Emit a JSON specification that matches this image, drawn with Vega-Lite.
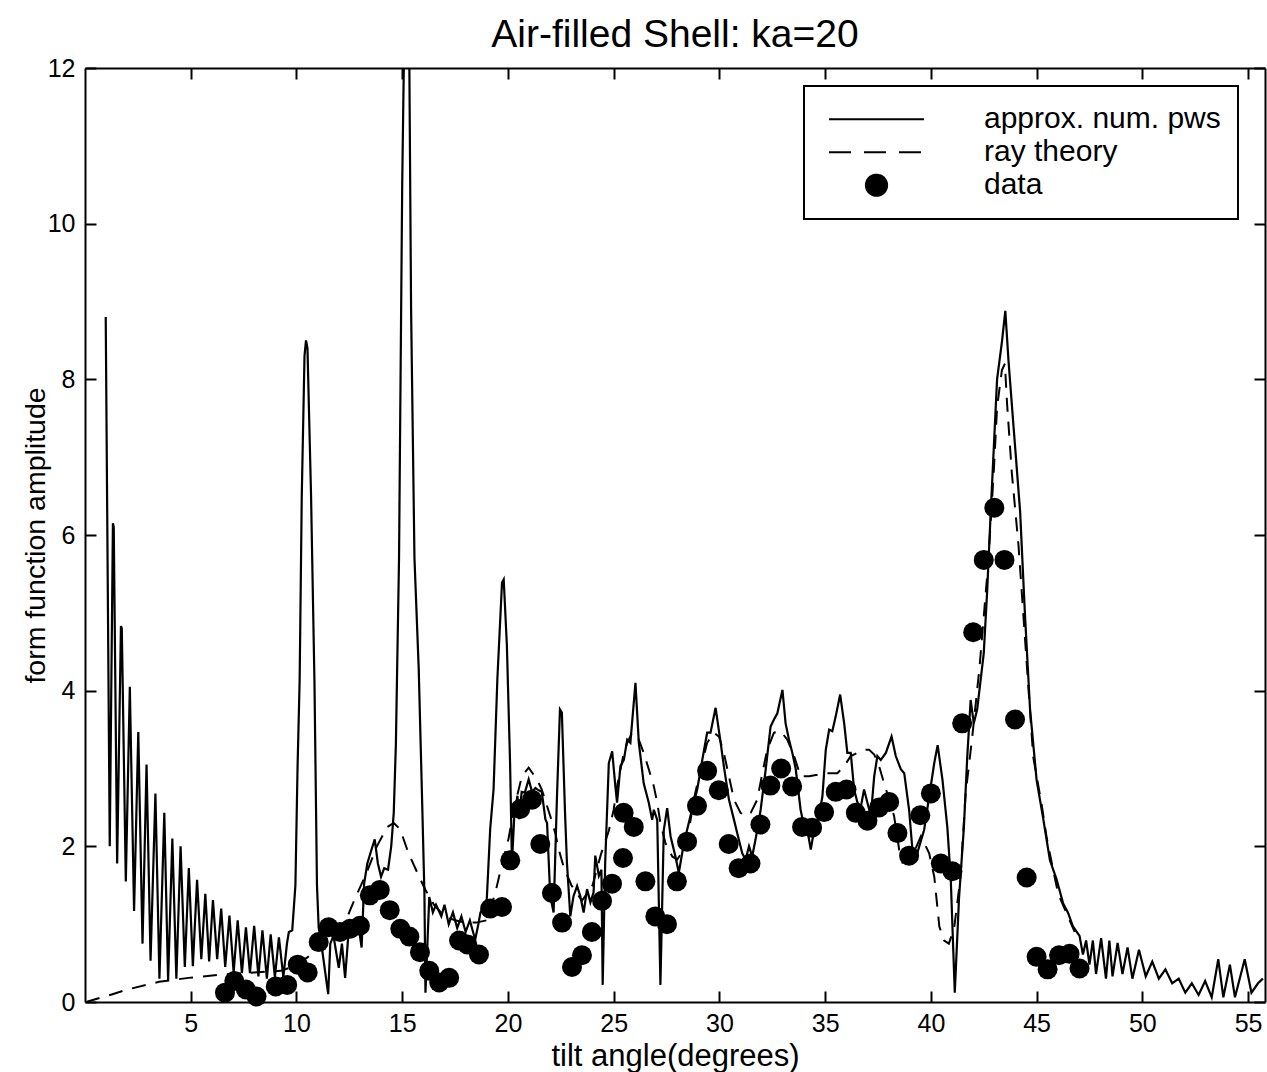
{
  "$schema": "https://vega.github.io/schema/vega-lite/v6.json",
  "width": 1180,
  "height": 934,
  "autosize": {"type": "none"},
  "padding": {"left": 85, "top": 68, "right": 2, "bottom": 70},
  "background": "white",
  "title": {"text": "Air-filled Shell: ka=20", "font": "Liberation Sans", "fontSize": 39, "fontWeight": "normal", "color": "black", "anchor": "middle", "offset": 1},
  "datasets": {
    "solid": [
      {"x":0.98,"y":8.8},{"x":1.17,"y":2.0},{"x":1.32,"y":6.15},{"x":1.36,"y":6.1},{"x":1.52,"y":1.78},{"x":1.7,"y":4.83},{"x":1.74,"y":4.8},{"x":1.93,"y":1.55},{"x":2.12,"y":4.05},{"x":2.32,"y":1.17},{"x":2.52,"y":3.47},{"x":2.72,"y":0.75},{"x":2.91,"y":3.05},{"x":3.1,"y":0.53},{"x":3.33,"y":2.68},{"x":3.52,"y":0.3},{"x":3.75,"y":2.43},{"x":3.93,"y":0.28},{"x":4.13,"y":2.1},{"x":4.32,"y":0.3},{"x":4.52,"y":2.0},{"x":4.72,"y":0.45},{"x":4.91,"y":1.72},{"x":5.1,"y":0.46},{"x":5.3,"y":1.57},{"x":5.5,"y":0.55},{"x":5.69,"y":1.39},{"x":5.87,"y":0.52},{"x":6.05,"y":1.31},{"x":6.25,"y":0.55},{"x":6.44,"y":1.2},{"x":6.63,"y":0.45},{"x":6.83,"y":1.11},{"x":7.03,"y":0.38},{"x":7.22,"y":1.05},{"x":7.42,"y":0.37},{"x":7.61,"y":0.96},{"x":7.8,"y":0.37},{"x":8.0,"y":0.98},{"x":8.2,"y":0.33},{"x":8.39,"y":0.92},{"x":8.6,"y":0.3},{"x":8.78,"y":0.87},{"x":8.98,"y":0.32},{"x":9.17,"y":0.83},{"x":9.38,"y":0.32},{"x":9.55,"y":0.75},{"x":9.64,"y":0.9},{"x":9.8,"y":0.92},{"x":9.95,"y":1.5},{"x":10.05,"y":3.0},{"x":10.15,"y":4.13},{"x":10.25,"y":6.5},{"x":10.38,"y":8.3},{"x":10.45,"y":8.5},{"x":10.52,"y":8.4},{"x":10.69,"y":6.5},{"x":10.85,"y":4.13},{"x":10.97,"y":1.5},{"x":11.05,"y":0.96},{"x":11.2,"y":0.7},{"x":11.5,"y":0.1},{"x":11.6,"y":0.75},{"x":11.75,"y":0.85},{"x":12.0,"y":0.44},{"x":12.15,"y":0.75},{"x":12.3,"y":0.31},{"x":12.45,"y":0.85},{"x":12.6,"y":0.92},{"x":12.75,"y":1.0},{"x":12.9,"y":1.05},{"x":13.08,"y":0.7},{"x":13.2,"y":1.52},{"x":13.35,"y":1.78},{"x":13.55,"y":1.96},{"x":13.7,"y":2.09},{"x":13.85,"y":1.78},{"x":14.0,"y":1.61},{"x":14.15,"y":1.72},{"x":14.33,"y":1.7},{"x":14.48,"y":2.0},{"x":14.6,"y":2.43},{"x":14.7,"y":3.3},{"x":14.85,"y":5.7},{"x":15.0,"y":10.5},{"x":15.15,"y":13.5},{"x":15.3,"y":13.5},{"x":15.42,"y":8.9},{"x":15.58,"y":5.7},{"x":15.78,"y":4.29},{"x":15.95,"y":2.5},{"x":16.05,"y":1.4},{"x":16.1,"y":0.12},{"x":16.28,"y":1.35},{"x":16.45,"y":1.15},{"x":16.6,"y":1.25},{"x":16.85,"y":1.1},{"x":17.0,"y":1.25},{"x":17.2,"y":1.0},{"x":17.4,"y":1.15},{"x":17.6,"y":0.95},{"x":17.8,"y":1.1},{"x":18.0,"y":0.9},{"x":18.2,"y":1.05},{"x":18.45,"y":0.8},{"x":18.6,"y":1.0},{"x":18.7,"y":1.15},{"x":18.85,"y":1.23},{"x":19.0,"y":1.32},{"x":19.16,"y":2.22},{"x":19.32,"y":2.73},{"x":19.5,"y":4.15},{"x":19.72,"y":5.39},{"x":19.8,"y":5.43},{"x":19.95,"y":4.58},{"x":20.1,"y":3.08},{"x":20.19,"y":1.79},{"x":20.3,"y":2.39},{"x":20.45,"y":2.65},{"x":20.52,"y":2.35},{"x":20.65,"y":2.7},{"x":20.8,"y":2.69},{"x":20.98,"y":2.86},{"x":21.14,"y":2.7},{"x":21.3,"y":2.75},{"x":21.45,"y":2.72},{"x":21.6,"y":2.7},{"x":21.77,"y":2.35},{"x":21.85,"y":2.3},{"x":22.0,"y":1.36},{"x":22.16,"y":1.15},{"x":22.32,"y":2.65},{"x":22.46,"y":3.76},{"x":22.55,"y":3.72},{"x":22.7,"y":2.43},{"x":22.79,"y":1.79},{"x":22.95,"y":1.1},{"x":23.1,"y":1.36},{"x":23.27,"y":1.49},{"x":23.42,"y":1.36},{"x":23.58,"y":1.15},{"x":23.74,"y":1.45},{"x":23.9,"y":1.28},{"x":24.05,"y":1.41},{"x":24.13,"y":1.88},{"x":24.3,"y":1.62},{"x":24.42,"y":1.7},{"x":24.48,"y":0.22},{"x":24.6,"y":1.8},{"x":24.77,"y":3.07},{"x":24.93,"y":3.22},{"x":25.08,"y":2.77},{"x":25.16,"y":2.56},{"x":25.32,"y":3.03},{"x":25.48,"y":3.11},{"x":25.64,"y":3.37},{"x":25.79,"y":3.33},{"x":26.03,"y":4.1},{"x":26.19,"y":3.33},{"x":26.42,"y":2.81},{"x":26.66,"y":2.56},{"x":26.82,"y":2.34},{"x":26.9,"y":2.47},{"x":27.06,"y":2.34},{"x":27.21,"y":0.22},{"x":27.37,"y":2.21},{"x":27.53,"y":2.49},{"x":27.69,"y":2.13},{"x":27.92,"y":1.87},{"x":28.08,"y":1.66},{"x":28.32,"y":2.04},{"x":28.63,"y":2.39},{"x":28.95,"y":2.73},{"x":29.19,"y":3.11},{"x":29.42,"y":3.46},{"x":29.58,"y":3.46},{"x":29.82,"y":3.78},{"x":30.06,"y":3.33},{"x":30.21,"y":3.03},{"x":30.45,"y":2.6},{"x":30.69,"y":2.34},{"x":30.84,"y":2.17},{"x":31.08,"y":1.91},{"x":31.24,"y":1.83},{"x":31.4,"y":2.0},{"x":31.55,"y":1.87},{"x":31.71,"y":2.09},{"x":31.95,"y":2.47},{"x":32.19,"y":2.99},{"x":32.42,"y":3.54},{"x":32.58,"y":3.63},{"x":32.74,"y":3.71},{"x":32.98,"y":4.01},{"x":33.13,"y":3.58},{"x":33.29,"y":3.37},{"x":33.45,"y":3.2},{"x":33.61,"y":2.99},{"x":33.84,"y":2.47},{"x":34.0,"y":2.26},{"x":34.16,"y":2.21},{"x":34.32,"y":1.96},{"x":34.48,"y":2.21},{"x":34.71,"y":2.39},{"x":34.87,"y":2.64},{"x":35.03,"y":3.24},{"x":35.19,"y":3.5},{"x":35.34,"y":3.48},{"x":35.5,"y":3.67},{"x":35.71,"y":3.95},{"x":35.9,"y":3.58},{"x":36.05,"y":3.2},{"x":36.21,"y":3.2},{"x":36.37,"y":2.73},{"x":36.53,"y":2.56},{"x":36.69,"y":2.51},{"x":36.84,"y":2.73},{"x":37.0,"y":2.56},{"x":37.16,"y":2.39},{"x":37.32,"y":2.9},{"x":37.47,"y":3.16},{"x":37.63,"y":3.11},{"x":37.87,"y":3.2},{"x":38.14,"y":3.41},{"x":38.34,"y":3.16},{"x":38.58,"y":2.99},{"x":38.74,"y":2.94},{"x":38.97,"y":2.47},{"x":39.13,"y":1.95},{"x":39.29,"y":1.85},{"x":39.45,"y":2.0},{"x":39.68,"y":2.21},{"x":39.92,"y":2.64},{"x":40.16,"y":3.07},{"x":40.32,"y":3.3},{"x":40.55,"y":2.85},{"x":40.78,"y":2.24},{"x":40.94,"y":1.58},{"x":41.13,"y":0.12},{"x":41.33,"y":1.33},{"x":41.56,"y":2.24},{"x":41.72,"y":3.15},{"x":41.88,"y":3.88},{"x":42.03,"y":3.58},{"x":42.19,"y":3.76},{"x":42.5,"y":4.48},{"x":42.66,"y":5.27},{"x":42.81,"y":6.18},{"x":42.97,"y":7.09},{"x":43.13,"y":8.0},{"x":43.36,"y":8.48},{"x":43.52,"y":8.88},{"x":43.67,"y":8.24},{"x":43.91,"y":7.39},{"x":44.22,"y":6.3},{"x":44.45,"y":4.97},{"x":44.69,"y":3.76},{"x":45.0,"y":2.85},{"x":45.31,"y":2.36},{"x":45.63,"y":1.82},{"x":45.94,"y":1.58},{"x":46.25,"y":1.27},{"x":46.48,"y":1.15},{"x":46.72,"y":0.97},{"x":47.03,"y":0.85},{"x":47.19,"y":0.61},{"x":47.34,"y":0.79},{"x":47.5,"y":0.48},{"x":47.66,"y":0.79},{"x":47.81,"y":0.36},{"x":48.05,"y":0.82},{"x":48.28,"y":0.3},{"x":48.44,"y":0.79},{"x":48.59,"y":0.33},{"x":48.83,"y":0.76},{"x":49.06,"y":0.36},{"x":49.3,"y":0.7},{"x":49.53,"y":0.3},{"x":49.84,"y":0.67},{"x":50.16,"y":0.33},{"x":50.47,"y":0.52},{"x":50.78,"y":0.3},{"x":51.09,"y":0.42},{"x":51.41,"y":0.24},{"x":51.72,"y":0.3},{"x":52.03,"y":0.12},{"x":52.34,"y":0.24},{"x":52.66,"y":0.09},{"x":52.97,"y":0.27},{"x":53.28,"y":0.06},{"x":53.59,"y":0.55},{"x":53.83,"y":0.06},{"x":54.14,"y":0.48},{"x":54.38,"y":0.06},{"x":54.84,"y":0.55},{"x":55.16,"y":0.12},{"x":55.47,"y":0.24},{"x":55.7,"y":0.3}
    ],
    "ray": [
      {"x":0.05,"y":0.0},{"x":1.3,"y":0.1},{"x":2.0,"y":0.16},{"x":3.5,"y":0.26},{"x":4.9,"y":0.31},{"x":6.4,"y":0.35},{"x":8.0,"y":0.38},{"x":9.25,"y":0.4},{"x":9.9,"y":0.46},{"x":10.5,"y":0.57},{"x":11.1,"y":0.7},{"x":11.8,"y":0.88},{"x":12.4,"y":1.09},{"x":12.8,"y":1.35},{"x":13.3,"y":1.65},{"x":13.8,"y":2.0},{"x":14.3,"y":2.25},{"x":14.6,"y":2.3},{"x":14.9,"y":2.22},{"x":15.3,"y":1.91},{"x":15.8,"y":1.61},{"x":16.1,"y":1.44},{"x":16.5,"y":1.25},{"x":17.0,"y":1.1},{"x":17.5,"y":1.05},{"x":18.0,"y":1.02},{"x":18.5,"y":1.02},{"x":19.0,"y":1.05},{"x":19.4,"y":1.4},{"x":19.7,"y":1.75},{"x":20.03,"y":2.1},{"x":20.3,"y":2.5},{"x":20.66,"y":2.9},{"x":20.98,"y":3.01},{"x":21.37,"y":2.86},{"x":21.6,"y":2.73},{"x":22.0,"y":2.39},{"x":22.24,"y":2.17},{"x":22.4,"y":1.96},{"x":22.63,"y":1.74},{"x":23.0,"y":1.5},{"x":23.5,"y":1.3},{"x":24.0,"y":1.5},{"x":24.4,"y":1.9},{"x":24.77,"y":2.2},{"x":25.0,"y":2.47},{"x":25.16,"y":2.77},{"x":25.48,"y":3.2},{"x":25.64,"y":3.33},{"x":25.87,"y":3.46},{"x":26.19,"y":3.37},{"x":26.42,"y":3.2},{"x":26.66,"y":2.99},{"x":26.9,"y":2.77},{"x":27.06,"y":2.56},{"x":27.21,"y":2.3},{"x":27.45,"y":2.04},{"x":27.77,"y":1.87},{"x":28.0,"y":1.83},{"x":28.3,"y":1.95},{"x":28.56,"y":2.21},{"x":28.79,"y":2.6},{"x":29.11,"y":2.99},{"x":29.42,"y":3.33},{"x":29.74,"y":3.46},{"x":29.98,"y":3.41},{"x":30.21,"y":3.2},{"x":30.45,"y":2.9},{"x":30.69,"y":2.6},{"x":31.0,"y":2.43},{"x":31.24,"y":2.39},{"x":31.48,"y":2.43},{"x":31.79,"y":2.6},{"x":32.03,"y":2.94},{"x":32.26,"y":3.24},{"x":32.58,"y":3.46},{"x":32.9,"y":3.48},{"x":33.21,"y":3.37},{"x":33.53,"y":3.16},{"x":33.84,"y":2.9},{"x":34.24,"y":2.9},{"x":34.63,"y":2.92},{"x":34.95,"y":2.94},{"x":35.58,"y":2.94},{"x":35.9,"y":3.03},{"x":36.21,"y":3.16},{"x":36.53,"y":3.2},{"x":36.84,"y":3.24},{"x":37.08,"y":3.24},{"x":37.32,"y":3.18},{"x":37.55,"y":3.03},{"x":37.79,"y":2.81},{"x":38.03,"y":2.6},{"x":38.26,"y":2.39},{"x":38.5,"y":1.96},{"x":38.66,"y":1.79},{"x":39.05,"y":1.83},{"x":39.53,"y":2.13},{"x":39.92,"y":1.91},{"x":40.16,"y":1.61},{"x":40.4,"y":0.97},{"x":40.63,"y":0.79},{"x":40.85,"y":0.75},{"x":41.1,"y":0.95},{"x":41.4,"y":1.6},{"x":41.64,"y":2.67},{"x":41.95,"y":3.39},{"x":42.3,"y":4.3},{"x":42.7,"y":5.6},{"x":42.97,"y":6.79},{"x":43.13,"y":7.64},{"x":43.36,"y":8.12},{"x":43.5,"y":8.2},{"x":43.6,"y":7.7},{"x":43.83,"y":6.79},{"x":44.14,"y":5.88},{"x":44.53,"y":4.36},{"x":44.84,"y":3.15},{"x":45.23,"y":2.55},{"x":45.47,"y":2.12},{"x":45.78,"y":1.7},{"x":46.02,"y":1.39},{"x":46.4,"y":1.15},{"x":46.8,"y":0.9}
    ],
    "pts": [
      {"x":6.62,"y":0.12},{"x":7.06,"y":0.27},{"x":7.61,"y":0.16},{"x":8.11,"y":0.07},{"x":9.02,"y":0.2},{"x":9.56,"y":0.22},{"x":10.06,"y":0.48},{"x":10.53,"y":0.38},{"x":11.05,"y":0.77},{"x":11.52,"y":0.96},{"x":12.06,"y":0.9},{"x":12.53,"y":0.94},{"x":13.0,"y":0.98},{"x":13.47,"y":1.37},{"x":13.94,"y":1.44},{"x":14.41,"y":1.18},{"x":14.91,"y":0.94},{"x":15.34,"y":0.84},{"x":15.84,"y":0.64},{"x":16.28,"y":0.4},{"x":16.75,"y":0.25},{"x":17.22,"y":0.31},{"x":17.69,"y":0.79},{"x":18.08,"y":0.74},{"x":18.63,"y":0.61},{"x":19.16,"y":1.2},{"x":19.72,"y":1.22},{"x":20.11,"y":1.82},{"x":20.58,"y":2.48},{"x":21.14,"y":2.6},{"x":21.53,"y":2.03},{"x":22.08,"y":1.4},{"x":22.56,"y":1.02},{"x":23.03,"y":0.45},{"x":23.5,"y":0.6},{"x":23.97,"y":0.9},{"x":24.45,"y":1.3},{"x":24.92,"y":1.52},{"x":25.44,"y":1.85},{"x":25.47,"y":2.43},{"x":25.95,"y":2.25},{"x":26.5,"y":1.55},{"x":26.97,"y":1.1},{"x":27.52,"y":1.0},{"x":27.99,"y":1.55},{"x":28.47,"y":2.06},{"x":28.94,"y":2.52},{"x":29.42,"y":2.97},{"x":29.97,"y":2.72},{"x":30.44,"y":2.03},{"x":30.91,"y":1.72},{"x":31.47,"y":1.78},{"x":31.94,"y":2.28},{"x":32.41,"y":2.78},{"x":32.92,"y":3.0},{"x":33.44,"y":2.77},{"x":33.91,"y":2.25},{"x":34.38,"y":2.24},{"x":34.95,"y":2.44},{"x":35.5,"y":2.7},{"x":36.01,"y":2.73},{"x":36.45,"y":2.43},{"x":37.0,"y":2.33},{"x":37.55,"y":2.5},{"x":38.03,"y":2.57},{"x":38.42,"y":2.17},{"x":38.97,"y":1.88},{"x":39.5,"y":2.4},{"x":40.0,"y":2.68},{"x":40.47,"y":1.78},{"x":41.02,"y":1.68},{"x":41.48,"y":3.58},{"x":42.0,"y":4.75},{"x":42.5,"y":5.68},{"x":43.0,"y":6.35},{"x":43.48,"y":5.68},{"x":43.98,"y":3.63},{"x":44.53,"y":1.6},{"x":45.0,"y":0.58},{"x":45.52,"y":0.42},{"x":46.06,"y":0.6},{"x":46.56,"y":0.62},{"x":47.03,"y":0.43}
    ]
  },
  "resolve": {"axis": {"x": "independent", "y": "independent"}},
  "layer": [
    {
      "data": {"name": "solid"},
      "mark": {"type": "line", "strokeWidth": 2.2, "clip": true, "interpolate": "linear"},
      "encoding": {
        "x": {"field": "x", "type": "quantitative", "scale": {"domain": [0, 55.8], "nice": false, "zero": false},
              "axis": {"orient": "bottom", "values": [5,10,15,20,25,30,35,40,45,50,55], "title": "tilt angle(degrees)", "titleFontSize": 31, "titlePadding": 5, "labelPadding": 20}},
        "y": {"field": "y", "type": "quantitative", "scale": {"domain": [0, 12], "nice": false, "zero": false},
              "axis": {"orient": "left", "values": [0,2,4,6,8,10,12], "title": "form function amplitude", "titleFontSize": 28.5, "titlePadding": -3, "labelPadding": 21}},
        "color": {"datum": "approx. num. pws", "type": "nominal",
                  "scale": {"domain": ["approx. num. pws", "ray theory", "data"], "range": ["black", "black", "black"]},
                  "legend": {
                    "title": null,
                    "orient": "none", "legendX": 719, "legendY": 18,
                    "symbolType": "stroke", "symbolSize": 9025, "symbolStrokeWidth": 2, "symbolOffset": 7,
                    "labelFont": "Liberation Sans", "labelFontSize": 30, "labelColor": "black", "labelOffset": 59, "labelLimit": 0,
                    "clipHeight": 32.5, "rowPadding": 0, "padding": 17,
                    "strokeColor": "black", "fillColor": "white",
                    "encode": {
                      "symbols": {"update": {
                        "shape": {"signal": "datum.value === 'data' ? 'circle' : 'stroke'"},
                        "size": {"signal": "datum.value === 'data' ? 450 : 9025"},
                        "strokeDash": {"signal": "datum.value === 'ray theory' ? [22, 13] : [1, 0]"},
                        "fill": {"signal": "datum.value === 'data' ? 'black' : 'transparent'"},
                        "stroke": {"value": "black"},
                        "strokeWidth": {"value": 2},
                        "opacity": {"value": 1}
                      }},
                      "legend": {"update": {"strokeWidth": {"value": 2}}}
                    }
                  }}
      }
    },
    {
      "data": {"name": "ray"},
      "mark": {"type": "line", "strokeWidth": 2, "strokeDash": [14, 10], "clip": true},
      "encoding": {
        "x": {"field": "x", "type": "quantitative", "axis": {"orient": "top", "values": [5,10,15,20,25,30,35,40,45,50,55], "labels": false, "title": null}},
        "y": {"field": "y", "type": "quantitative", "axis": {"orient": "right", "values": [0,2,4,6,8,10,12], "labels": false, "title": null}},
        "color": {"datum": "ray theory", "type": "nominal"}
      }
    },
    {
      "data": {"name": "pts"},
      "mark": {"type": "point", "shape": "circle", "filled": true, "opacity": 1, "size": 400},
      "encoding": {
        "x": {"field": "x", "type": "quantitative", "axis": null},
        "y": {"field": "y", "type": "quantitative", "axis": null},
        "color": {"datum": "data", "type": "nominal"}
      }
    }
  ],
  "config": {
    "view": {"stroke": null},
    "font": "Liberation Sans",
    "axis": {
      "domainColor": "black", "domainWidth": 2, "tickColor": "black", "tickWidth": 2, "tickSize": -11,
      "grid": false, "labelFont": "Liberation Sans", "labelFontSize": 25, "labelColor": "black",
      "titleFont": "Liberation Sans", "titleFontWeight": "normal", "titleColor": "black"
    }
  }
}
